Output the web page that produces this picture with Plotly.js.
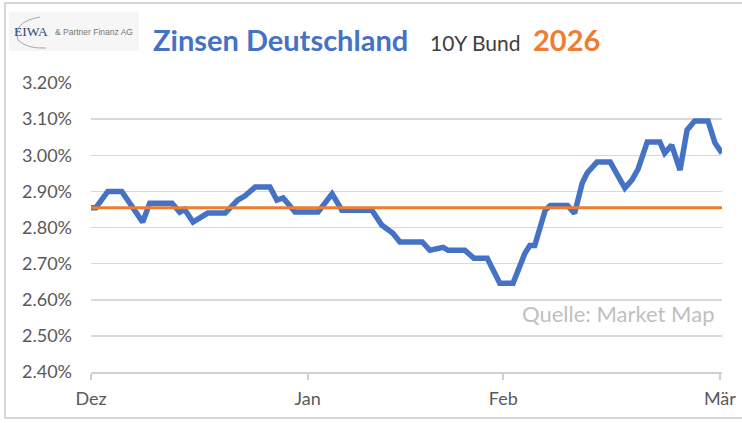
<!DOCTYPE html>
<html>
<head>
<meta charset="utf-8">
<script src="https://cdn.plot.ly/plotly-3.0.1.min.js"></script>
<style>
  html, body { margin: 0; padding: 0; background: #ffffff; }
  #chart { width: 742px; height: 423px; }
</style>
</head>
<body>
<div id="chart"></div>
<script>
// ---- data ----
// x: trading-day position, month starts at the tick values below
const days = [0, 0.7, 2.4, 4.4, 7.4, 8.4, 11.6, 12.7, 13.4, 14.6, 16.7, 19.2, 21.0, 22.0, 23.5, 25.6,
  26.6, 27.5, 29.2, 32.5, 34.5, 35.9, 40.2, 41.6, 43.2, 44.2, 47.4, 48.5, 50.4, 51.1, 53.5, 54.8,
  56.7, 58.5, 60.4, 62.1, 62.8, 63.5, 65.0, 65.7, 68.2, 69.2, 70.3, 71.0, 72.4, 74.3, 76.4, 77.4,
  78.3, 79.6, 81.4, 82.1, 83.1, 84.3, 85.3, 86.4, 88.3, 89.3, 90.3];
const yields = [2.855, 2.855, 2.90, 2.90, 2.815, 2.867, 2.867, 2.842, 2.85, 2.815, 2.84, 2.84, 2.876, 2.887, 2.912, 2.912,
  2.876, 2.882, 2.843, 2.843, 2.893, 2.848, 2.848, 2.807, 2.784, 2.76, 2.76, 2.737, 2.745, 2.737, 2.737, 2.715,
  2.715, 2.646, 2.646, 2.729, 2.75, 2.75, 2.848, 2.861, 2.861, 2.839, 2.923, 2.951, 2.981, 2.981, 2.909, 2.931,
  2.962, 3.037, 3.037, 3.006, 3.028, 2.959, 3.07, 3.095, 3.095, 3.034, 3.006];
const baseline = 2.855;           // yield at the start (orange reference line)
const monthTicks = [0, 31, 59, 90];
const monthLabels = ['Dez', 'Jan', 'Feb', 'Mär'];
const yTicks = [2.40, 2.50, 2.60, 2.70, 2.80, 2.90, 3.00, 3.10, 3.20];
const yTickLabels = yTicks.map(v => v.toFixed(2) + '%');

// ---- layout helpers (pixel -> paper) ----
const W = 742, H = 423;
const M = {l: 91, r: 20, t: 83, b: 51};
const PW = W - M.l - M.r, PH = H - M.t - M.b;
const px = x => (x - M.l) / PW;
const py = y => (H - M.b - y) / PH;

const blue = '#4472C4', orange = '#ED7D31';
const FONT = 'Lato, "Open Sans", sans-serif';

const traces = [
  { x: days, y: yields, type: 'scatter', mode: 'lines',
    line: {color: blue, width: 5.5, shape: 'linear'}, hoverinfo: 'skip' },
  { x: [days[0], days[days.length - 1]], y: [baseline, baseline], type: 'scatter', mode: 'lines',
    line: {color: orange, width: 3}, hoverinfo: 'skip' }
];

const layout = {
  width: W, height: H,
  margin: M,
  paper_bgcolor: '#ffffff', plot_bgcolor: '#ffffff',
  showlegend: false,
  font: {family: FONT, color: '#595959'},
  xaxis: {
    range: [0, days[days.length - 1]],
    tickvals: monthTicks, ticktext: monthLabels,
    showgrid: false, zeroline: false,
    showline: true, linecolor: '#d0d0d0', linewidth: 2,
    ticks: 'outside', ticklen: 6, tickcolor: '#d0d0d0', tickwidth: 2,
    ticklabelstandoff: 3,
    tickfont: {size: 18, color: '#595959', family: FONT},
    fixedrange: true
  },
  yaxis: {
    range: [2.40, 3.20],
    tickvals: yTicks, ticktext: yTickLabels,
    showgrid: true, gridcolor: '#d9d9d9', gridwidth: 1.5,
    zeroline: false, showline: false, ticks: '',
    ticklabelstandoff: 18,
    tickfont: {size: 18, color: '#595959', family: FONT},
    fixedrange: true
  },
  annotations: [
    {xref: 'paper', yref: 'paper', x: px(151), y: py(40), xanchor: 'left', yanchor: 'middle',
     text: '<b>Zinsen Deutschland</b>', showarrow: false,
     font: {size: 29, color: blue, family: FONT}},
    {xref: 'paper', yref: 'paper', x: px(428), y: py(42), xanchor: 'left', yanchor: 'middle',
     text: '10Y Bund', showarrow: false,
     font: {size: 21, color: '#404040', family: FONT}},
    {xref: 'paper', yref: 'paper', x: px(531), y: py(40), xanchor: 'left', yanchor: 'middle',
     text: '<b>2026</b>', showarrow: false,
     font: {size: 29, color: orange, family: FONT}},
    {xref: 'paper', yref: 'paper', x: px(716), y: py(313), xanchor: 'right', yanchor: 'middle',
     text: 'Quelle: Market Map', showarrow: false,
     font: {size: 22, color: '#bfbfbf', family: FONT}},
    {xref: 'paper', yref: 'paper', x: px(12), y: py(32), xanchor: 'left', yanchor: 'middle',
     text: 'EIWA', showarrow: false,
     font: {size: 13.5, color: '#2F4A7A', family: '"Liberation Serif", serif'}},
    {xref: 'paper', yref: 'paper', x: px(53), y: py(32), xanchor: 'left', yanchor: 'middle',
     text: '&amp; Partner Finanz AG', showarrow: false,
     font: {size: 8.5, color: '#777777', family: '"Liberation Sans Narrow", "Liberation Sans", sans-serif'}}
  ],
  shapes: [
    // outer frame
    {type: 'rect', xref: 'paper', yref: 'paper', x0: px(5), x1: px(760), y0: py(418), y1: py(3),
     line: {color: '#d6d6d6', width: 2}, fillcolor: 'rgba(0,0,0,0)', layer: 'below'},
    // logo box
    {type: 'rect', xref: 'paper', yref: 'paper', x0: px(9), x1: px(139), y0: py(51), y1: py(12),
     line: {width: 0}, fillcolor: '#f6f6f6', layer: 'below'},
    // logo arc
    {type: 'path', xref: 'paper', yref: 'paper',
     path: 'M ' + px(40) + ',' + py(17) + ' Q ' + px(12) + ',' + py(22) + ' ' + px(18) + ',' + py(40) +
           ' Q ' + px(27) + ',' + py(49) + ' ' + px(46) + ',' + py(48),
     line: {color: '#a6a6a6', width: 1}}
  ]
};

Plotly.newPlot('chart', traces, layout, {displayModeBar: false, staticPlot: true});
</script>
</body>
</html>
